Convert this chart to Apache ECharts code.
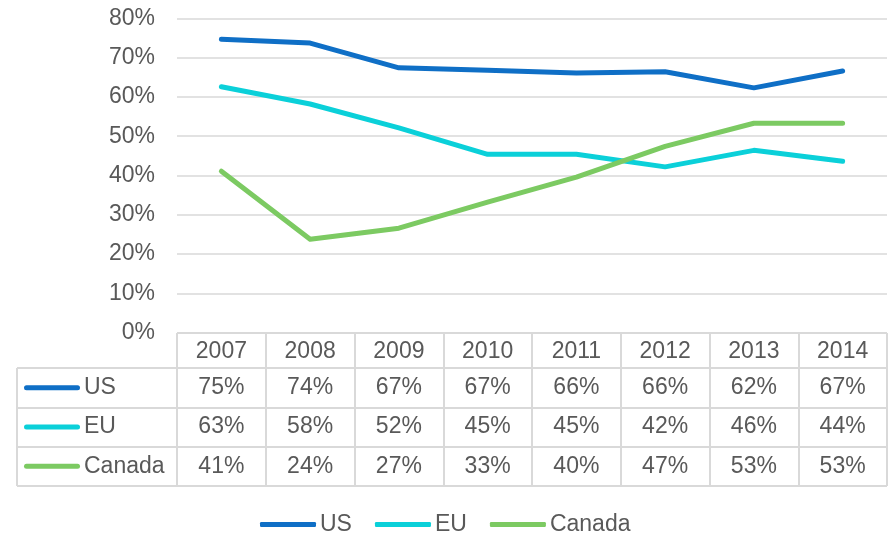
<!DOCTYPE html>
<html><head><meta charset="utf-8">
<script src="https://cdn.jsdelivr.net/npm/echarts@6/dist/echarts.min.js"></script>
<style>html,body{margin:0;padding:0;background:#fff}#c{width:895px;height:536px}</style>
</head><body><div id="c"></div>
<script>
const years = ['2007','2008','2009','2010','2011','2012','2013','2014'];
const seriesNames = ['US','EU','Canada'];
const usValues = [74.7,73.7,67.4,66.8,66.1,66.4,62.3,66.6];
const euValues = [62.6,58.2,52.1,45.4,45.4,42.2,46.4,43.6];
const caValues = [41.1,23.8,26.6,33.2,39.6,47.4,53.3,53.3];
const yMin = 0, yMax = 80, yStep = 10;

const allValues = [usValues, euValues, caValues];
const colors = ['#0F6FC6','#0BD0D9','#7CCA62'];
const txt = '#595959';
const gridC = '#D9D9D9';
const font = 'Liberation Sans, Arial, sans-serif';
const fs = 23;

const chart = echarts.init(document.getElementById('c'), null, {renderer:'canvas'});

const lineSeries = seriesNames.map((n,i)=>({
  type:'line', name:n, xAxisIndex:0, yAxisIndex:0, data:allValues[i],
  symbol:'none', lineStyle:{color:colors[i], width:5, cap:'round', join:'round'},
  itemStyle:{color:colors[i]}, silent:true
}));

const tableSeries = seriesNames.map((n,i)=>({
  type:'scatter', name:'tbl_'+n, xAxisIndex:2, yAxisIndex:2,
  data: allValues[i].map((v,j)=>[j, i, v]),
  symbolSize:1, itemStyle:{color:'rgba(255,255,255,0)', opacity:1}, silent:true,
  label:{show:true, position:'inside', fontSize:fs, fontFamily:font, color:txt, opacity:1,
    textBorderWidth:0, textBorderColor:'transparent',
    formatter:p=>Math.round(p.value[2])+'%'}
}));

const rich = {t:{fontSize:fs, fontFamily:font, color:txt, padding:[0,0,0,4]}};
colors.forEach((c,i)=>{ rich['m'+i] = {width:56, height:5, backgroundColor:c, borderRadius:2.5}; });

const option = {
  animation:false,
  textStyle:{fontFamily:font},
  legend:{
    data:seriesNames, left:260, top:513, padding:0, itemWidth:56, itemHeight:5, itemGap:23,
    icon:'roundRect',
    textStyle:{fontSize:fs, fontFamily:font, color:txt, padding:[0,0,0,-1]}
  },
  grid:[
    {left:177, right:8, top:18.3, bottom:203.3},
    {left:177, right:8, top:333, height:35},
    {left:177, right:8, top:368, height:118},
    {left:17, width:160, top:368, height:118}
  ],
  xAxis:[
    {type:'category', gridIndex:0, data:years, boundaryGap:true,
      axisLine:{show:false}, axisTick:{show:false}, axisLabel:{show:false}},
    {type:'category', gridIndex:1, data:years, boundaryGap:true,
      axisLine:{show:true, lineStyle:{color:gridC, width:2}}, axisTick:{show:false},
      axisLabel:{show:true, inside:true, margin:16, verticalAlign:'middle', fontSize:fs, fontFamily:font, color:txt},
      splitLine:{show:true, lineStyle:{color:gridC, width:2}}},
    {type:'category', gridIndex:2, data:years, boundaryGap:true,
      axisLine:{show:false}, axisTick:{show:false}, axisLabel:{show:false},
      splitLine:{show:true, lineStyle:{color:gridC, width:2}}},
    {type:'value', gridIndex:3, min:0, max:1, interval:1,
      axisLine:{show:false}, axisTick:{show:false}, axisLabel:{show:false},
      splitLine:{show:true, lineStyle:{color:gridC, width:2}}}
  ],
  yAxis:[
    {type:'value', gridIndex:0, min:yMin, max:yMax, interval:yStep,
      axisLine:{show:false}, axisTick:{show:false},
      axisLabel:{formatter:'{value}%', fontSize:fs, fontFamily:font, color:txt, margin:22},
      splitLine:{lineStyle:{color:gridC, width:1.5}}},
    {type:'value', gridIndex:1, min:0, max:1, interval:1,
      axisLine:{show:false}, axisTick:{show:false}, axisLabel:{show:false},
      splitLine:{show:true, lineStyle:{color:gridC, width:2}}},
    {type:'category', gridIndex:2, data:seriesNames, inverse:true, boundaryGap:true,
      axisLine:{show:false}, axisTick:{show:false}, axisLabel:{show:false},
      splitLine:{show:true, lineStyle:{color:gridC, width:2}}},
    {type:'category', gridIndex:3, data:seriesNames, inverse:true, boundaryGap:true,
      axisLine:{show:false}, axisTick:{show:false},
      axisLabel:{show:true, inside:true, margin:7, align:'left',
        formatter:(v,idx)=>'{m'+idx+'|}{t|'+v+'}', rich:rich},
      splitLine:{show:true, lineStyle:{color:gridC, width:2}}}
  ],
  series: lineSeries.concat(tableSeries)
};
chart.setOption(option);
</script></body></html>
